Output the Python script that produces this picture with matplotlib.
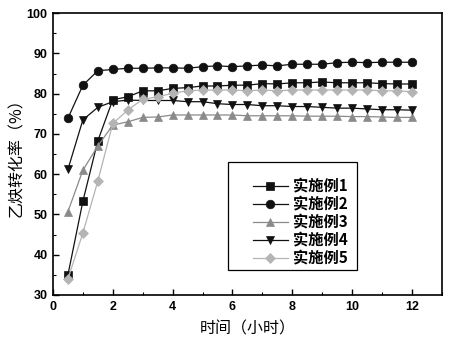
import matplotlib
matplotlib.use("Agg")
import matplotlib.pyplot as plt
from matplotlib.patches import Rectangle
from matplotlib.ticker import MultipleLocator

plt.rcParams['font.family'] = ['Noto Sans CJK SC', 'DejaVu Sans']

hours = [0.5, 1.0, 1.5, 2.0, 2.5, 3.0, 3.5, 4.0, 4.5, 5.0, 5.5, 6.0,
         6.5, 7.0, 7.5, 8.0, 8.5, 9.0, 9.5, 10.0, 10.5, 11.0, 11.5, 12.0]

ex1 = [35.0, 53.3, 68.3, 78.5, 79.2, 80.7, 80.7, 81.3, 81.5, 81.9, 81.9, 82.1,
       82.1, 82.5, 82.4, 82.7, 82.7, 82.9, 82.7, 82.7, 82.7, 82.5, 82.4, 82.4]
ex2 = [73.9, 82.1, 85.7, 86.0, 86.3, 86.3, 86.4, 86.4, 86.3, 86.7, 86.9, 86.7,
       86.9, 87.1, 86.9, 87.3, 87.3, 87.3, 87.7, 87.8, 87.7, 87.8, 87.8, 87.8]
ex3 = [50.7, 61.0, 67.0, 72.2, 73.0, 74.1, 74.2, 74.7, 74.7, 74.7, 74.7, 74.7,
       74.5, 74.5, 74.5, 74.5, 74.4, 74.4, 74.4, 74.3, 74.3, 74.2, 74.1, 74.1]
ex4 = [61.2, 73.5, 76.6, 78.0, 78.4, 78.3, 78.3, 78.3, 78.0, 78.0, 77.5, 77.3,
       77.3, 77.0, 77.0, 76.8, 76.8, 76.6, 76.4, 76.4, 76.2, 76.0, 76.0, 75.9]
ex5 = [34.0, 45.4, 58.3, 72.6, 75.9, 78.6, 79.2, 80.1, 80.7, 80.9, 80.9, 80.9,
       80.7, 80.9, 80.7, 80.9, 80.9, 80.9, 80.9, 80.9, 80.9, 80.7, 80.7, 80.5]

labels = ['实施例1', '实施例2', '实施例3', '实施例4', '实施例5']
series = [ex1, ex2, ex3, ex4, ex5]
markers = ['s', 'o', '^', 'v', 'D']
colors = ['#111111', '#111111', '#8a8a8a', '#111111', '#b4b4b4']
msizes = [5.5, 6.2, 5.5, 6.2, 4.8]

fig = plt.figure(figsize=(4.49, 3.45), dpi=100)
ax = fig.add_axes([0.118, 0.145, 0.866, 0.817])

for y, lab, m, c, ms in zip(series, labels, markers, colors, msizes):
    ax.plot(hours, y, marker=m, color=c, markersize=ms, linewidth=0.9,
            markeredgewidth=0.5, label=lab)

ax.set_xlim(0, 13)
ax.set_ylim(30, 100)
ax.xaxis.set_major_locator(MultipleLocator(2))
ax.xaxis.set_minor_locator(MultipleLocator(1))
ax.yaxis.set_major_locator(MultipleLocator(10))
ax.yaxis.set_minor_locator(MultipleLocator(5))
ax.tick_params(which='both', direction='in', top=False, right=False)
ax.tick_params(which='major', length=4, width=1.0, labelsize=9, pad=4)
ax.tick_params(which='minor', length=2.5, width=0.8)
for lbl in ax.get_xticklabels() + ax.get_yticklabels():
    lbl.set_family(['Liberation Sans', 'DejaVu Sans'])
    lbl.set_fontweight('bold')
for sp in ax.spines.values():
    sp.set_linewidth(1.2)

ax.set_xlabel('时间（小时）', fontsize=11.5, labelpad=6)
ax.set_ylabel('乙炔转化率（%）', fontsize=11.5, labelpad=1)

# legend frame drawn as its own box, entries placed inside it
ax.add_patch(Rectangle((0.450, 0.089), 0.331, 0.383, transform=ax.transAxes,
                       facecolor='white', edgecolor='black', linewidth=0.9,
                       zorder=4))
leg = ax.legend(loc='upper left', bbox_to_anchor=(0.514, 0.412),
                frameon=False,
                prop={'family': ['Noto Sans CJK SC', 'DejaVu Sans'],
                      'weight': 'bold', 'size': 11},
                handlelength=2.3, handletextpad=0.3, labelspacing=0.12,
                borderpad=0, borderaxespad=0)
leg.set_zorder(5)

fig.savefig('out.png', dpi=100)
